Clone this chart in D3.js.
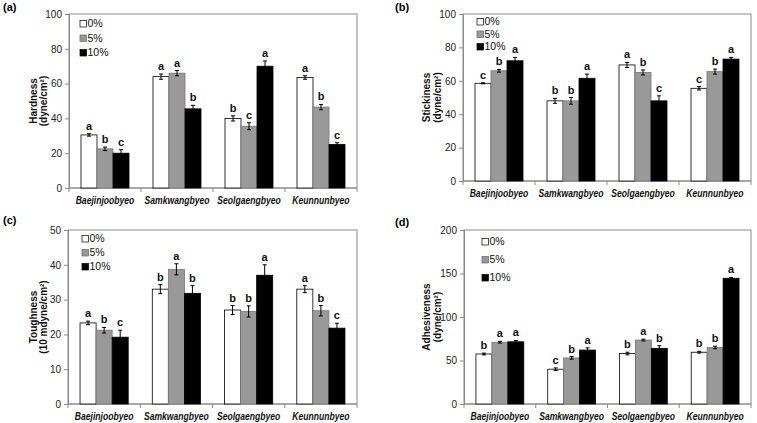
<!DOCTYPE html>
<html><head><meta charset="utf-8">
<script src="https://cdn.jsdelivr.net/npm/d3@7"></script>
<style>
body{margin:0;background:#fff;}
svg{display:block;}
text{font-family:Arial,"Liberation Sans",sans-serif;}
</style></head>
<body>
<svg id="c" width="757" height="423"></svg>
<script>
const categories = ["Baejinjoobyeo","Samkwangbyeo","Seolgaengbyeo","Keunnunbyeo"];
const series = ["0%","5%","10%"];
const colors = ["#ffffff","#999999","#000000"];

// Hardness (a)
const hardness = [[30.5,22.5,20],[64,66,45.5],[40,35.5,70],[63.5,46.5,25]];
const hardnessErr = [[0.7,1,2],[1.5,1.5,2],[1.5,2,3],[1,1.5,1]];
const hardnessSig = [["a","b","c"],["a","a","b"],["b","c","a"],["a","b","c"]];
// Stickiness (b)
const stickiness = [[58.5,66,72],[48,48,61.5],[69.5,65,48],[55.5,65.5,73]];
const stickinessErr = [[0.3,0.8,2],[1.5,2,2.5],[1.5,1.5,3],[1,1.5,1]];
const stickinessSig = [["c","b","a"],["b","b","a"],["a","b","c"],["c","b","a"]];
// Toughness (c)
const toughness = [[23.3,21.2,19.2],[33,38.7,31.8],[27,26.6,37],[33,26.8,21.8]];
const toughnessErr = [[0.5,0.8,2],[1.3,1.6,2.2],[1.3,1.6,3],[1,1.5,1.4]];
const toughnessSig = [["a","b","c"],["b","a","b"],["b","b","a"],["a","b","c"]];
// Adhesiveness (d)
const adhesiveness = [[57.5,71,71.5],[40,53,62],[58,73.5,64],[59.5,65,144.5]];
const adhesivenessErr = [[1,1,1.5],[1.5,1.5,2.5],[1.5,1,3],[1,1.5,1]];
const adhesivenessSig = [["b","a","a"],["c","b","a"],["b","a","b"],["b","b","a"]];

const ticksA = [0,20,40,60,80,100];
const ticksB = [0,20,40,60,80,100];
const ticksC = [0,10,20,30,40,50];
const ticksD = [0,50,100,150,200];

const svg = d3.select("#c");

function panel(o){
  const g = svg.append("g");
  const y = d3.scaleLinear().domain([0,o.ticks[o.ticks.length-1]]).range([o.y1,o.y0]);
  const x0 = d3.scaleBand().domain(categories).range([o.x0,o.x1]).padding(0);
  const x1 = d3.scaleBand().domain(series).range([0,x0.bandwidth()]).paddingInner(0).paddingOuter(0.75);
  g.append("rect").attr("x",o.x0).attr("y",o.y0).attr("width",o.x1-o.x0).attr("height",o.y1-o.y0)
    .attr("fill","none").attr("stroke","#8a8a8a").attr("stroke-width",1);
  const ya = g.append("g").attr("transform",`translate(${o.x0},0)`)
    .call(d3.axisLeft(y).tickValues(o.ticks).tickSize(4).tickPadding(3));
  ya.select(".domain").attr("stroke","#8a8a8a");
  ya.selectAll(".tick line").attr("stroke","#8a8a8a");
  ya.selectAll(".tick text").attr("font-size","10px").attr("fill","#222").attr("font-family","Arial,'Liberation Sans',sans-serif");
  const xa = g.append("g").attr("transform",`translate(0,${o.y1})`);
  xa.append("line").attr("x1",o.x0).attr("x2",o.x1).attr("stroke","#8a8a8a");
  const bounds = categories.map(c=>x0(c)).concat([o.x1]);
  xa.selectAll("line.tk").data(bounds).join("line").attr("class","tk")
    .attr("x1",d=>d).attr("x2",d=>d).attr("y1",0).attr("y2",4).attr("stroke","#8a8a8a");
  xa.selectAll("text").data(categories).join("text")
    .attr("transform",d=>`translate(${x0(d)+x0.bandwidth()/2},16) scale(0.86,1)`)
    .attr("text-anchor","middle").attr("font-size","10px").attr("font-weight","bold").attr("font-style","italic")
    .attr("fill","#111").text(d=>d);
  categories.forEach((c,ci)=>{
    series.forEach((s,si)=>{
      const v = o.vals[ci][si], e = o.err[ci][si];
      const bx = x0(c)+x1(s), bw = x1.bandwidth();
      g.append("rect").attr("x",bx).attr("y",y(v)).attr("width",bw).attr("height",y(0)-y(v))
        .attr("fill",colors[si]).attr("stroke",si===1?"#777":"#000").attr("stroke-width",0.8);
      const cx = bx+bw/2;
      g.append("line").attr("x1",cx).attr("x2",cx).attr("y1",y(v+e)).attr("y2",y(v-e)).attr("stroke","#000").attr("stroke-width",1);
      [v+e,v-e].forEach(t=>g.append("line").attr("x1",cx-2).attr("x2",cx+2).attr("y1",y(t)).attr("y2",y(t)).attr("stroke","#000").attr("stroke-width",1));
      g.append("text").attr("x",cx).attr("y",y(v+e)-4).attr("text-anchor","middle")
        .attr("font-size","11px").attr("font-weight","bold").attr("fill","#111").text(o.sig[ci][si]);
    });
  });
  series.forEach((s,si)=>{
    const ly = o.ly + si*o.lsp;
    g.append("rect").attr("x",o.lx).attr("y",ly-6.5).attr("width",6.5).attr("height",6.5)
      .attr("fill",colors[si]).attr("stroke",si===1?"#666":"#000").attr("stroke-width",0.7);
    g.append("text").attr("x",o.lx+7.5).attr("y",ly).attr("font-size","10.5px").attr("fill","#111").text(s);
  });
  const cy = (o.y0+o.y1)/2;
  g.append("text").attr("transform",`translate(${o.tx1},${cy}) rotate(-90)`).attr("text-anchor","middle")
    .attr("font-size","10px").attr("font-weight","bold").attr("fill","#111").text(o.title1);
  g.append("text").attr("transform",`translate(${o.tx2},${cy}) rotate(-90)`).attr("text-anchor","middle")
    .attr("font-size","10px").attr("font-weight","bold").attr("fill","#111").text(o.title2);
  g.append("text").attr("x",o.px).attr("y",o.py).attr("font-family","'Times New Roman','Liberation Serif',serif")
    .attr("font-size","11px").attr("font-weight","bold").text(o.plabel);
}

panel({x0:69,x1:357,y0:14,y1:188,ticks:ticksA,vals:hardness,err:hardnessErr,sig:hardnessSig,
  lx:80,ly:27,lsp:14.5,tx1:37,tx2:47,title1:"Hardness",title2:"(dyne/cm²)",px:3,py:11,plabel:"(a)"});
panel({x0:463,x1:751,y0:14,y1:181,ticks:ticksB,vals:stickiness,err:stickinessErr,sig:stickinessSig,
  lx:477,ly:25,lsp:12.5,tx1:430,tx2:441,title1:"Stickiness",title2:"(dyne/cm²)",px:395,py:11,plabel:"(b)"});
panel({x0:68,x1:357,y0:230,y1:404,ticks:ticksC,vals:toughness,err:toughnessErr,sig:toughnessSig,
  lx:82,ly:242,lsp:14,tx1:37,tx2:47,title1:"Toughness",title2:"(10 mdyne/cm²)",px:3,py:224,plabel:"(c)"});
panel({x0:464,x1:751,y0:230,y1:404,ticks:ticksD,vals:adhesiveness,err:adhesivenessErr,sig:adhesivenessSig,
  lx:482,ly:245,lsp:18,tx1:430,tx2:441,title1:"Adhesiveness",title2:"(dyne/cm²)",px:395,py:226,plabel:"(d)"});
</script>
</body></html>
